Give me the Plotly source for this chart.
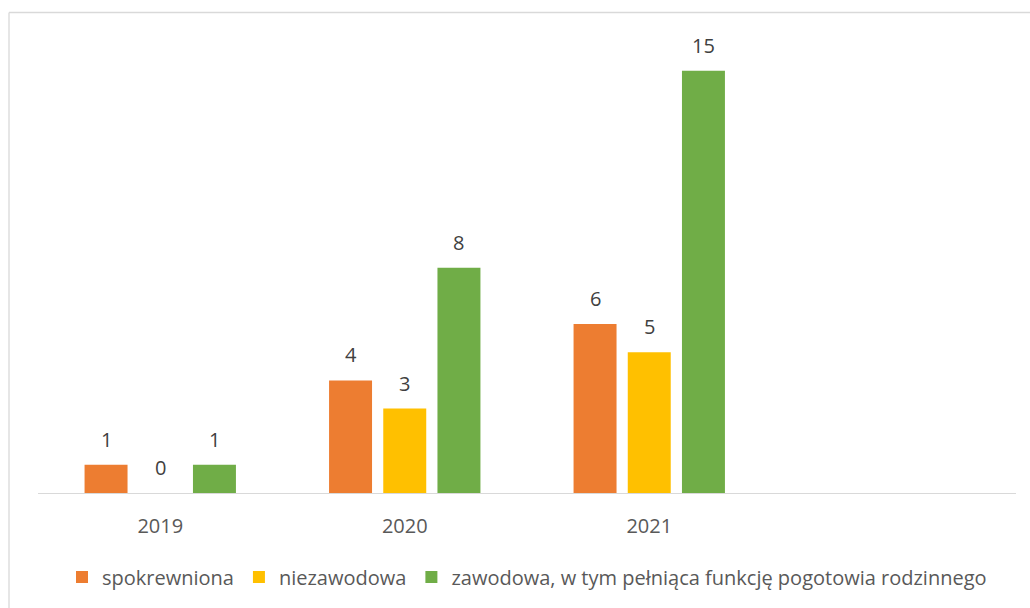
import plotly.graph_objects as go

categories = ["2019", "2020", "2021"]
series_names = ["spokrewniona", "niezawodowa", "zawodowa, w tym pełniąca funkcję pogotowia rodzinnego"]
spokrewniona = [1, 4, 6]
niezawodowa = [0, 3, 5]
zawodowa = [1, 8, 15]
colors = ["#ED7D31", "#FFC000", "#70AD47"]

W, H = 1030, 608
ML, MR, MT, MB = 38, 14, 40, 115
BARGAP = 0.335
FONT = "Open Sans"

series = [spokrewniona, niezawodowa, zawodowa]
fig = go.Figure()
for name, vals, col in zip(series_names, series, colors):
    fig.add_trace(go.Bar(x=categories, y=vals, name=name, marker=dict(color=col, line=dict(width=0))))

# data labels via annotations positioned in data coordinates
slot = (1 - BARGAP) / len(series)
annotations = []
for k, vals in enumerate(series):
    off = (k - (len(series) - 1) / 2) * slot
    for i, v in enumerate(vals):
        annotations.append(dict(x=i + off, y=v, xref="x", yref="y", text=str(v),
                                showarrow=False, yshift=25.5, yanchor="middle",
                                font=dict(family=FONT, size=20, color="#404040")))

plot_h = H - MT - MB
px_per_unit = 28.15
ymax = plot_h / px_per_unit

# chart border (Excel chart area)
pw = W - ML - MR
bx0 = (9 - ML) / pw
by1 = 1 + (MT - 12.5) / plot_h

fig.update_layout(
    width=W, height=H,
    margin=dict(l=ML, r=MR, t=MT, b=MB),
    paper_bgcolor="white", plot_bgcolor="white",
    barmode="group", bargap=BARGAP, bargroupgap=0.207,
    font=dict(family=FONT, size=20, color="#595959"),
    xaxis=dict(type="category", range=[-0.5, 3.5], showline=True, linecolor="#D9D9D9", linewidth=1.3,
               ticks="", showgrid=False, zeroline=False, ticklabelstandoff=15,
               tickfont=dict(family=FONT, size=20, color="#595959")),
    yaxis=dict(range=[0, ymax], visible=False, showgrid=False, zeroline=False),
    legend=dict(orientation="h", x=0.5, xanchor="center", y=-(MB - 31) / plot_h, yanchor="middle",
                font=dict(family=FONT, size=20, color="#595959"), itemwidth=30, traceorder="normal"),
    annotations=annotations,
    shapes=[dict(type="line", xref="paper", yref="paper", x0=bx0, x1=bx0, y0=-0.5, y1=by1,
                 line=dict(color="#D9D9D9", width=1.3)),
            dict(type="line", xref="paper", yref="paper", x0=bx0, x1=1.2, y0=by1, y1=by1,
                 line=dict(color="#D9D9D9", width=1.3))],
)

fig.write_html("out.html", config={"displayModeBar": False},
               post_script="document.body.style.margin='0';document.body.style.overflow='hidden';")
